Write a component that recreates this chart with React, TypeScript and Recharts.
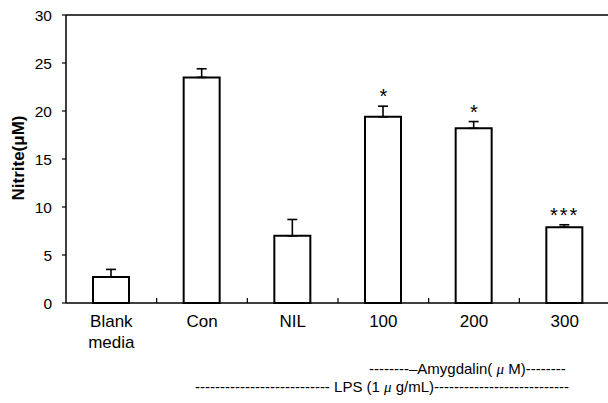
import React from "react";
import { ComposedChart, Bar, XAxis, YAxis, ErrorBar, Scatter, ReferenceLine } from "recharts";

const categories = ["Blank\nmedia", "Con", "NIL", "100", "200", "300"];
const means = [2.7, 23.5, 7.0, 19.4, 18.2, 7.9];
const sem = [0.8, 0.9, 1.7, 1.1, 0.7, 0.25];
const significance = ["", "", "", "*", "*", "***"];
const yTicks = [0, 5, 10, 15, 20, 25, 30];

const data = categories.map((c, i) => ({
  name: c,
  mean: means[i],
  err: [0, sem[i]],
  top: means[i] + sem[i],
  sig: significance[i],
}));

const FONT = "'Liberation Sans', Arial, sans-serif";

const XTick = (props: any) => {
  const { x, y, payload } = props;
  const lines = String(payload.value).split("\n");
  const half = payload.offset || 0;
  const isLast = payload.value === categories[categories.length - 1];
  return (
    <g>
      {!isLast && (
        <line x1={x + half} x2={x + half} y1={y} y2={y - 5} stroke="#000" strokeWidth={1.2} />
      )}
      <text x={x} y={y + 24} textAnchor="middle" fontSize={17} fontFamily={FONT} fill="#000">
        {lines.map((l, i) => (
          <tspan key={i} x={x} dy={i === 0 ? 0 : 21}>{l}</tspan>
        ))}
      </text>
    </g>
  );
};

const StarShape = (props: any) => {
  const { cx, cy, payload } = props;
  if (!payload || !payload.sig) return <g />;
  return (
    <text x={cx} y={cy - 3} textAnchor="middle" fontSize={20} fontFamily={FONT} fill="#000" letterSpacing={payload.sig.length > 1 ? 2 : 0}>
      {payload.sig}
    </text>
  );
};

export default function App() {
  return (
    <div style={{ position: "absolute", left: 0, top: 0, width: 608, height: 403, overflow: "hidden", background: "#fff" }}>
      <ComposedChart width={620} height={403} data={data} margin={{ top: 15, right: 10, bottom: 0, left: 10 }}>
        <XAxis
          dataKey="name"
          tickLine={false}
          tickSize={0}
          tickMargin={0}
          height={100}
          axisLine={{ stroke: "#000", strokeWidth: 1.5 }}
          tick={<XTick />}
          interval={0}
        />
        <YAxis
          domain={[0, 30]}
          ticks={yTicks}
          width={56}
          tickSize={4}
          tickMargin={10}
          axisLine={{ stroke: "#000", strokeWidth: 1.5 }}
          tickLine={{ stroke: "#000", strokeWidth: 1.2 }}
          tick={{ fontSize: 15.5, fontFamily: FONT, fill: "#000" }}
        />
        <ReferenceLine y={30} stroke="#000" strokeWidth={1.5} />
        <Bar dataKey="mean" fill="#fff" stroke="#000" strokeWidth={2} barSize={36} isAnimationActive={false}>
          <ErrorBar dataKey="err" width={5} stroke="#000" strokeWidth={1.6} direction="y" />
        </Bar>
        <Scatter dataKey="top" shape={<StarShape />} isAnimationActive={false} />
        <text x={18} y={158} transform="rotate(-90 18 158)" textAnchor="middle" dominantBaseline="central" fontSize={17} fontWeight="bold" fontFamily={FONT} fill="#000">
          Nitrite(μM)
        </text>
        <text x={369} y={374} fontSize={15} fontFamily={FONT} fill="#000">
          {"--------–Amygdalin( "}
          <tspan fontStyle="italic" fontFamily="'Liberation Serif', serif">μ</tspan>
          {" M)--------"}
        </text>
        <text x={195} y={392} fontSize={15} fontFamily={FONT} fill="#000">
          {"--------------------------- LPS (1 "}
          <tspan fontStyle="italic" fontFamily="'Liberation Serif', serif">μ</tspan>
          {" g/mL)---------------------------"}
        </text>
      </ComposedChart>
    </div>
  );
}
